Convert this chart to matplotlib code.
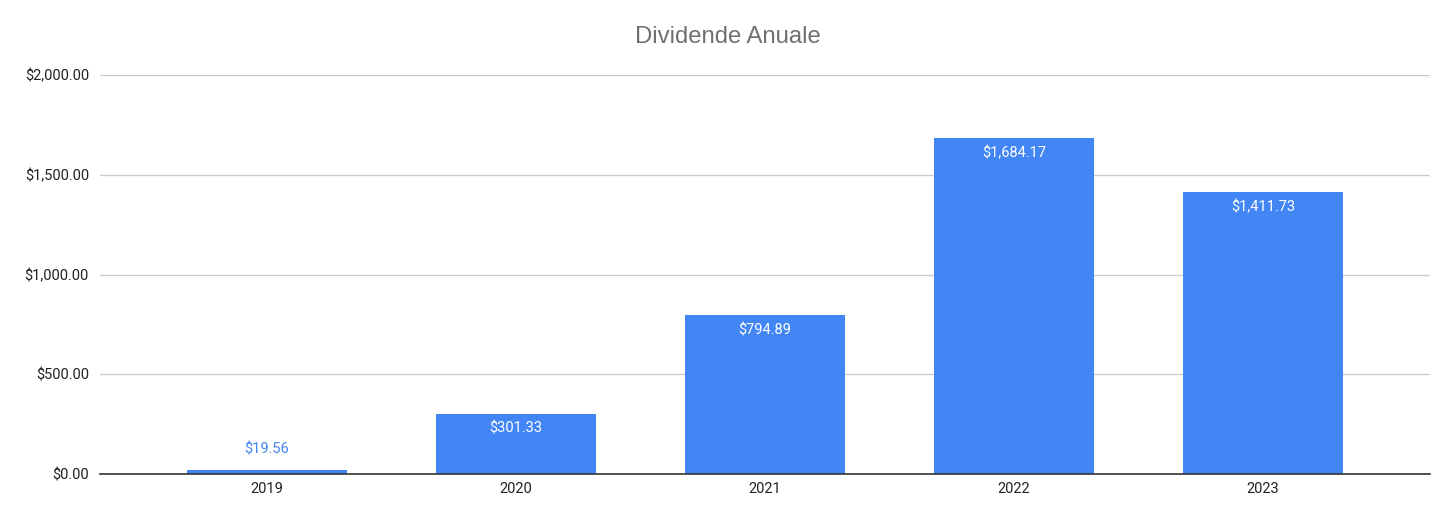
import numpy as np
import matplotlib.pyplot as plt

plt.rcParams['font.family'] = ['Roboto', 'DejaVu Sans']

years = ['2019', '2020', '2021', '2022', '2023']
dividends = [19.56, 301.33, 794.89, 1684.17, 1411.73]
yticks = [0, 500, 1000, 1500, 2000]

blue = '#4285F4'

fig = plt.figure(figsize=(14.56, 5.22), dpi=100)
ax = fig.add_axes([100/1456, 48/522, 1330/1456, 399/522])

x = np.arange(len(years))
bars = ax.bar(x, dividends, width=0.643, color=blue, zorder=3)

for xi, v in zip(x, dividends):
    label = '${:,.2f}'.format(v)
    if v > 150:
        ax.annotate(label, (xi, v), xytext=(0, -8), textcoords='offset pixels',
                    ha='center', va='top', color='white', fontsize=10.5, zorder=4)
    else:
        ax.annotate(label, (xi, v), xytext=(0, 14), textcoords='offset pixels',
                    ha='center', va='bottom', color=blue, fontsize=10.5, zorder=4)

ax.set_xlim(-0.67, 4.67)
ax.set_ylim(0, 2000)
ax.set_xticks(x)
ax.set_xticklabels(years)
ax.set_yticks(yticks)
ax.set_yticklabels(['${:,.2f}'.format(t) for t in yticks])
ax.tick_params(axis='both', length=0, labelsize=10.5, colors='#222222')
ax.tick_params(axis='y', pad=8)
ax.tick_params(axis='x', pad=6)
ax.grid(axis='y', color='#cccccc', linewidth=1, zorder=0)
for s in ['top', 'right', 'left']:
    ax.spines[s].set_visible(False)
ax.spines['bottom'].set_color('#333333')
ax.spines['bottom'].set_linewidth(1.2)
ax.spines['bottom'].set_zorder(5)

fig.text(728/1456, 1 - 37/522, 'Dividende Anuale', ha='center', va='center',
         fontsize=17.2, color='#707070', family=['Liberation Sans', 'DejaVu Sans'])

plt.savefig('out.png', dpi=100)
